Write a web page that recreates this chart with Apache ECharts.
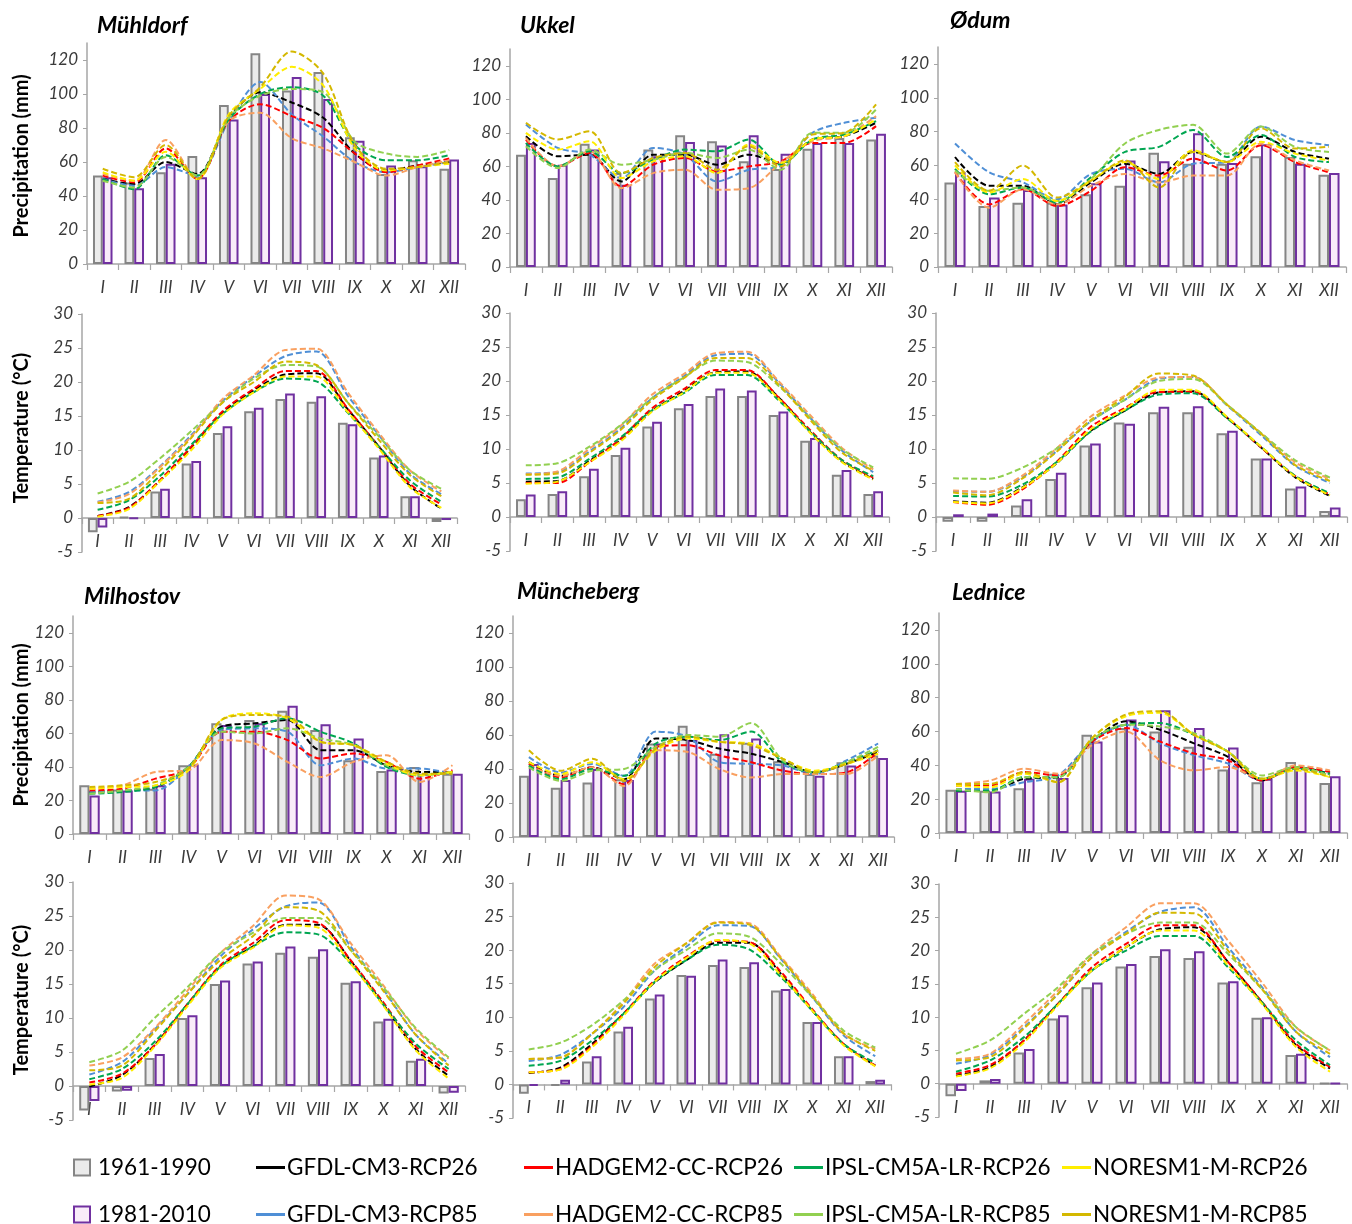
<!DOCTYPE html>
<html>
<head>
<meta charset="utf-8">
<script src="https://cdn.jsdelivr.net/npm/echarts/dist/echarts.min.js"></script>
<style>
  html, body { margin: 0; padding: 0; background: #ffffff; }
  #chart { width: 1352px; height: 1224px; }
</style>
</head>
<body>
<div id="chart"></div>
<script>
// Month categories (Roman numerals)
const months = ['I', 'II', 'III', 'IV', 'V', 'VI', 'VII', 'VIII', 'IX', 'X', 'XI', 'XII'];

// ---------- Mühldorf: precipitation (mm) ----------
const muhldorfP_obs61  = [52, 48, 54, 63.5, 93.5, 124, 102, 113, 74.5, 53, 61, 56];
const muhldorfP_obs81  = [51, 44.6, 59, 51, 85, 100, 110, 97, 72.5, 58, 57.5, 61.5];
const muhldorfP_gfdl26 = [50, 47, 60, 53, 86, 101, 95, 86, 65, 55, 58, 60];
const muhldorfP_gfdl85 = [50, 46, 57, 52, 84, 107, 88, 75, 60, 54, 57, 60];
const muhldorfP_had26  = [52, 48, 68, 50, 84, 94, 87, 80, 65, 54, 58, 62];
const muhldorfP_had85  = [53, 49, 73, 50, 84, 89, 74, 68, 60, 52, 57, 61];
const muhldorfP_ipsl26 = [50, 44, 64, 52, 85, 100, 104, 99, 70, 61, 61, 64];
const muhldorfP_ipsl85 = [49, 45, 63, 52, 86, 99, 103, 101, 72, 65, 63, 67];
const muhldorfP_nor26  = [54, 49, 66, 50, 88, 103, 116, 105, 68, 55, 57, 59];
const muhldorfP_nor85  = [56, 51, 70, 50, 87, 104, 125, 112, 70, 56, 57, 60];

// ---------- Ukkel: precipitation (mm) ----------
const ukkelP_obs61  = [67, 53, 73.5, 56, 70, 78.5, 75, 63, 58.5, 70.5, 77, 76];
const ukkelP_obs81  = [74, 61, 70, 49, 66, 74.5, 72.5, 78.5, 67.5, 74, 74, 79.5];
const ukkelP_gfdl26 = [78, 66, 67, 51, 67, 67, 61, 67, 62, 76, 78, 86];
const ukkelP_gfdl85 = [85, 71, 67, 53, 71, 67, 51, 58, 60, 80, 86, 89];
const ukkelP_had26  = [76, 60, 68, 48, 61, 65, 57, 60, 63, 74, 74, 84];
const ukkelP_had85  = [77, 60, 69, 47, 56, 58, 46, 47, 62, 75, 78, 90];
const ukkelP_ipsl26 = [74, 60, 69, 56, 64, 70, 69, 76, 61, 76, 79, 87];
const ukkelP_ipsl85 = [72, 59, 70, 61, 64, 68, 65, 70, 58, 80, 80, 94];
const ukkelP_nor26  = [80, 70, 75, 53, 63, 66, 56, 73, 62, 76, 78, 88];
const ukkelP_nor85  = [86, 76, 81, 56, 65, 68, 58, 72, 60, 79, 80, 97];

// ---------- Ødum: precipitation (mm) ----------
const odumP_obs61  = [50, 36, 38, 38, 43, 48, 67.5, 61, 61, 65.5, 65, 54.5];
const odumP_obs81  = [56, 41, 45.5, 37, 49.5, 63, 62.5, 79, 61.5, 72.5, 61, 55.5];
const odumP_gfdl26 = [65, 48, 48, 37, 50, 61, 55, 68, 62, 77, 68, 64];
const odumP_gfdl85 = [73, 56, 50, 40, 55, 58, 50, 61, 62, 83, 75, 72];
const odumP_had26  = [56, 37, 46, 36, 45, 59, 54, 64, 57, 72, 62, 56];
const odumP_had85  = [56, 35, 46, 37, 48, 55, 50, 54, 54, 73, 63, 57];
const odumP_ipsl26 = [58, 43, 47, 38, 53, 68, 71, 81, 65, 78, 65, 62];
const odumP_ipsl85 = [57, 45, 47, 39, 52, 73, 81, 84, 67, 83, 71, 68];
const odumP_nor26  = [60, 44, 52, 39, 51, 62, 52, 69, 62, 74, 67, 63];
const odumP_nor85  = [62, 45, 60, 41, 51, 63, 47, 68, 62, 82, 70, 71];

// ---------- Mühldorf: temperature (°C) ----------
const muhldorfT_obs61  = [-2.1, 0.15, 3.9, 8, 12.5, 15.7, 17.5, 17.1, 14, 8.9, 3.2, -0.6];
const muhldorfT_obs81  = [-1.4, -0.1, 4.3, 8.4, 13.5, 16.2, 18.3, 17.9, 13.8, 9.2, 3.2, -0.3];
const muhldorfT_gfdl26 = [0.3, 1.6, 5.5, 10.4, 15.5, 18.8, 21.1, 21.3, 16, 10.5, 4.7, 1.4];
const muhldorfT_gfdl85 = [2.4, 3.8, 7.6, 12.2, 17.2, 20.8, 23.8, 24.5, 18, 12.2, 6.5, 3.5];
const muhldorfT_had26  = [0.3, 1.5, 5.6, 10.5, 15.7, 19, 21.6, 21.6, 16.1, 10.5, 5, 2.0];
const muhldorfT_had85  = [2.3, 3.5, 7.5, 12, 17.5, 21, 24.7, 24.9, 18.5, 12.5, 7.0, 3.9];
const muhldorfT_ipsl26 = [1.2, 2.6, 6.2, 10.8, 15.3, 18.5, 20.5, 20.1, 15.5, 10.5, 5.5, 2.4];
const muhldorfT_ipsl85 = [3.6, 5.3, 8.8, 12.8, 17.0, 20.5, 22.5, 22.3, 17, 12, 7.0, 4.3];
const muhldorfT_nor26  = [0.2, 1.3, 5.4, 10, 15.2, 18.5, 20.8, 20.8, 15.6, 10.2, 4.5, 1.5];
const muhldorfT_nor85  = [2.2, 2.8, 7, 11.8, 17, 20, 23, 22.5, 17, 11.5, 6.3, 3.2];

// ---------- Ukkel: temperature (°C) ----------
const ukkelT_obs61  = [2.6, 3.4, 6.0, 9.1, 13.3, 16.0, 17.8, 17.8, 15.0, 11.2, 6.2, 3.4];
const ukkelT_obs81  = [3.3, 3.8, 7.1, 10.2, 14.0, 16.6, 18.9, 18.6, 15.5, 11.6, 6.9, 3.8];
const ukkelT_gfdl26 = [5.2, 5.3, 8.2, 11.3, 15.6, 18.5, 21.3, 21.4, 17.6, 12.5, 8.2, 5.6];
const ukkelT_gfdl85 = [6.4, 6.6, 9.6, 13, 17.5, 20.7, 23.8, 24.0, 19.8, 14.6, 9.8, 6.6];
const ukkelT_had26  = [5.0, 5.0, 8.0, 11.5, 16.0, 18.8, 21.6, 21.6, 17.6, 12.8, 8.4, 5.8];
const ukkelT_had85  = [6.3, 6.7, 10.0, 13.4, 18.0, 21, 24.1, 24.3, 20, 15, 10.2, 7.0];
const ukkelT_ipsl26 = [5.6, 5.8, 8.5, 11.7, 15.7, 18.2, 20.9, 20.9, 17.2, 12.6, 8.4, 6.0];
const ukkelT_ipsl85 = [7.6, 7.9, 10.3, 13.5, 17.5, 20.5, 23.0, 22.8, 19.3, 14.6, 10.0, 7.3];
const ukkelT_nor26  = [4.9, 5.2, 8.0, 11.1, 15.5, 18.3, 21.2, 21.2, 17.4, 12.4, 8.1, 5.5];
const ukkelT_nor85  = [6.2, 6.4, 9.4, 12.8, 17.2, 20.4, 23.4, 23.4, 19.5, 14.3, 9.5, 6.8];

// ---------- Ødum: temperature (°C) ----------
const odumT_obs61  = [-0.7, -0.7, 1.7, 5.6, 10.5, 13.9, 15.4, 15.4, 12.3, 8.6, 4.2, 0.9];
const odumT_obs81  = [0.4, 0.5, 2.6, 6.5, 10.8, 13.7, 16.2, 16.3, 12.7, 8.6, 4.5, 1.4];
const odumT_gfdl26 = [2.3, 2.1, 4.3, 7.8, 12.6, 15.6, 18.3, 18.5, 14.6, 10.2, 5.8, 3.1];
const odumT_gfdl85 = [3.8, 3.7, 5.8, 9.6, 14, 17.2, 20.3, 20.6, 16.4, 12, 7.5, 5.0];
const odumT_had26  = [2.2, 1.8, 4.0, 8.0, 13.2, 16.0, 18.4, 18.4, 14.6, 10.2, 6.0, 3.3];
const odumT_had85  = [3.9, 3.7, 6.0, 10, 14.7, 17.8, 20.5, 20.6, 16.5, 12.3, 8.0, 5.6];
const odumT_ipsl26 = [3.1, 3.0, 4.7, 8.0, 12.5, 15.6, 18.0, 18.2, 14.5, 10.3, 6.0, 3.5];
const odumT_ipsl85 = [5.7, 5.6, 7.2, 10, 14, 17.2, 20.0, 20.3, 16.5, 12.3, 8.3, 5.8];
const odumT_nor26  = [2.2, 2.0, 4.2, 7.8, 12.8, 15.8, 18.7, 18.7, 14.7, 10.3, 5.9, 3.2];
const odumT_nor85  = [3.6, 3.2, 5.6, 9.5, 14.2, 17.6, 21.1, 20.8, 16.5, 12.2, 7.6, 5.3];

// ---------- Milhostov: precipitation (mm) ----------
const milhostovP_obs61  = [29, 26.5, 27, 41, 66, 68, 73.5, 62, 44, 37.5, 40, 36];
const milhostovP_obs81  = [23, 26, 29, 41.5, 65, 66, 76.5, 65.5, 57, 38.5, 36, 36];
const milhostovP_gfdl26 = [25, 26, 28, 40, 64, 66, 68, 50, 50, 41, 37, 37];
const milhostovP_gfdl85 = [25, 26, 26, 40, 62, 63, 61, 41, 45, 39, 39, 36];
const milhostovP_had26  = [26, 27, 33, 39, 61, 61, 56, 45, 48, 43, 33, 38];
const milhostovP_had85  = [27, 29, 37, 38, 56, 54, 43, 34, 43, 47, 31, 41];
const milhostovP_ipsl26 = [24, 25, 28, 40, 63, 64, 69, 61, 54, 40, 35, 37];
const milhostovP_ipsl85 = [24, 26, 29, 40, 61, 60, 63, 57, 53, 41, 35, 37];
const milhostovP_nor26  = [27, 28, 29, 38, 68, 72, 69, 55, 53, 42, 35, 37];
const milhostovP_nor85  = [28, 29, 31, 39, 68, 71, 70, 55, 53, 43, 36, 36];

// ---------- Müncheberg: precipitation (mm) ----------
const munchebergP_obs61  = [36, 29, 32, 34, 55, 65.5, 49, 55.5, 44.5, 37, 44, 48];
const munchebergP_obs81  = [43, 33.5, 40, 33.5, 55, 57, 60.5, 58, 44, 36, 42, 46.5];
const munchebergP_gfdl26 = [44, 36, 41, 34, 58, 57, 52, 49, 44, 38, 43, 50];
const munchebergP_gfdl85 = [47, 38, 43, 36, 62, 59, 44, 43, 42, 37, 45, 55];
const munchebergP_had26  = [43, 35, 41, 31, 53, 54, 48, 44, 39, 37, 38, 50];
const munchebergP_had85  = [42, 36, 41, 30, 51, 50, 40, 35, 37, 37, 37, 48];
const munchebergP_ipsl26 = [42, 34, 40, 36, 55, 59, 57, 62, 44, 38, 44, 51];
const munchebergP_ipsl85 = [41, 33, 39, 40, 53, 60, 59, 67, 45, 38, 44, 53];
const munchebergP_nor26  = [44, 37, 44, 34, 51, 58, 56, 55, 46, 39, 43, 49];
const munchebergP_nor85  = [51, 39, 46, 33, 52, 59, 56, 54, 46, 38, 43, 51];

// ---------- Lednice: precipitation (mm) ----------
const ledniceP_obs61  = [25.5, 25, 26.5, 35, 58, 62, 60, 51, 37.5, 30, 42, 29.5];
const ledniceP_obs81  = [25, 24.5, 32, 32.5, 54, 67, 72.5, 62, 50.5, 32, 39, 33.5];
const ledniceP_gfdl26 = [25, 25, 32, 33, 54, 66, 61, 53, 45, 31, 39, 35];
const ledniceP_gfdl85 = [26, 26, 30, 34, 54, 64, 53, 46, 41, 31, 39, 36];
const ledniceP_had26  = [28, 28, 36, 34, 54, 62, 54, 47, 43, 31, 39, 36];
const ledniceP_had85  = [29, 31, 38, 35, 52, 60, 43, 37, 39, 32, 40, 37];
const ledniceP_ipsl26 = [25, 25, 33, 33, 55, 64, 65, 58, 48, 32, 38, 35];
const ledniceP_ipsl85 = [26, 24, 33, 33, 55, 64, 63, 59, 48, 34, 39, 34];
const ledniceP_nor26  = [28, 27, 35, 30, 56, 69, 71, 58, 48, 32, 37, 33];
const ledniceP_nor85  = [29, 29, 36, 30, 56, 70, 72, 58, 48, 32, 38, 33];

// ---------- Milhostov: temperature (°C) ----------
const milhostovT_obs61  = [-3.6, -0.8, 4.1, 10.0, 15.0, 18.0, 19.6, 19.0, 15.2, 9.5, 3.7, -1.1];
const milhostovT_obs81  = [-2.2, -0.7, 4.7, 10.4, 15.5, 18.3, 20.5, 20.1, 15.4, 9.9, 4.0, -1.0];
const milhostovT_gfdl26 = [-0.1, 1.6, 6.0, 12, 17.5, 20.5, 23.7, 23.7, 18.4, 12, 5.4, 1.5];
const milhostovT_gfdl85 = [1.7, 3.5, 8.3, 13.5, 19, 23, 26.4, 27, 20.5, 14.2, 7.5, 3.3];
const milhostovT_had26  = [0.5, 1.8, 6.0, 12, 17.7, 21, 24.4, 24.0, 18.5, 12.3, 5.8, 2.0];
const milhostovT_had85  = [3.0, 4.2, 8.5, 14, 19.5, 23.5, 28.0, 27.5, 21, 14.8, 8.3, 4.0];
const milhostovT_ipsl26 = [1.0, 2.5, 6.5, 12, 17.5, 20.5, 22.6, 22.3, 18, 12, 6.2, 2.5];
const milhostovT_ipsl85 = [3.5, 5.2, 10, 14.5, 19.5, 22.5, 24.7, 24.7, 20, 14.5, 8.5, 4.2];
const milhostovT_nor26  = [0.2, 1.2, 5.8, 11.7, 17.3, 20.3, 23.6, 23.3, 18, 11.8, 5.2, 1.1];
const milhostovT_nor85  = [2.3, 3.0, 8.0, 13.5, 18.5, 22, 26.3, 25.8, 20, 14, 7.5, 3.0];

// ---------- Müncheberg: temperature (°C) ----------
const munchebergT_obs61  = [-1.4, -0.2, 3.4, 7.9, 12.8, 16.3, 17.8, 17.5, 14.0, 9.3, 4.2, 0.5];
const munchebergT_obs81  = [-0.2, 0.7, 4.2, 8.6, 13.4, 16.2, 18.6, 18.2, 14.2, 9.3, 4.2, 0.7];
const munchebergT_gfdl26 = [1.7, 2.5, 6.0, 10.5, 15.2, 18.5, 21.1, 21.1, 16.5, 11.0, 6.0, 2.8];
const munchebergT_gfdl85 = [3.5, 4.4, 7.5, 11.5, 17, 20.5, 23.7, 23.6, 18.7, 13, 7.3, 4.2];
const munchebergT_had26  = [1.8, 2.3, 5.7, 10.5, 15.5, 19, 21.4, 21.2, 16.8, 11.2, 6.0, 2.8];
const munchebergT_had85  = [3.8, 4.0, 7.5, 12.2, 18, 21, 24.2, 24.0, 19, 13.5, 7.5, 5.3];
const munchebergT_ipsl26 = [2.8, 3.5, 6.5, 10.5, 15.3, 18.5, 20.8, 20.1, 16, 11, 6.0, 3.2];
const munchebergT_ipsl85 = [5.2, 6.2, 8.8, 12.5, 17, 20, 22.5, 22.0, 18, 13, 8.0, 5.5];
const munchebergT_nor26  = [1.8, 2.2, 5.5, 10.2, 15.3, 18.8, 21.5, 21.0, 16.3, 11, 5.8, 2.7];
const munchebergT_nor85  = [3.8, 4.0, 7.5, 12, 17.5, 21, 24.1, 23.8, 18.8, 13.2, 7.6, 5.0];

// ---------- Lednice: temperature (°C) ----------
const ledniceT_obs61  = [-1.9, 0.5, 4.7, 9.8, 14.5, 17.6, 19.2, 18.9, 15.2, 9.9, 4.3, 0.1];
const ledniceT_obs81  = [-1.1, 0.7, 5.2, 10.3, 15.2, 18.0, 20.2, 19.9, 15.4, 10.0, 4.5, 0.1];
const ledniceT_gfdl26 = [1.2, 2.5, 6.5, 12.0, 17.0, 20.5, 23.2, 23.5, 18.3, 12.2, 5.8, 2.3];
const ledniceT_gfdl85 = [3.0, 4.3, 8.5, 13.5, 19, 22.8, 25.8, 26.5, 20.5, 14.5, 7.8, 4.0];
const ledniceT_had26  = [1.5, 2.8, 6.5, 12.0, 17.5, 21, 23.8, 23.8, 18.3, 12.3, 6.0, 2.5];
const ledniceT_had85  = [3.7, 4.5, 9.0, 14.0, 19.5, 23.5, 27.1, 27.1, 21.5, 15.2, 8.5, 5.0];
const ledniceT_ipsl26 = [1.8, 3.5, 7.0, 12.0, 17.0, 20.0, 22.2, 22.2, 17.5, 12.2, 6.5, 2.8];
const ledniceT_ipsl85 = [4.5, 6.5, 10.5, 14.5, 19.5, 22.5, 24.2, 24.2, 19.5, 14.2, 8.5, 5.0];
const ledniceT_nor26  = [1.1, 2.3, 6.2, 11.8, 17.0, 20.5, 23.0, 23.0, 17.8, 12, 5.5, 1.8];
const ledniceT_nor85  = [3.5, 4.0, 8.3, 13.5, 19, 22.5, 25.7, 25.6, 20, 14.2, 7.8, 4.5];

// Series names, in legend order
const periodNames = ['1961-1990', '1981-2010'];
const modelNames = [
  'GFDL-CM3-RCP26', 'GFDL-CM3-RCP85',
  'HADGEM2-CC-RCP26', 'HADGEM2-CC-RCP85',
  'IPSL-CM5A-LR-RCP26', 'IPSL-CM5A-LR-RCP85',
  'NORESM1-M-RCP26', 'NORESM1-M-RCP85'
];

// Value ranges of the two panel types
const precipRange = { min: 0, max: 130, interval: 20 };
const tempRange = { min: -5, max: 30, interval: 5 };

// Styling
const FONT = 'Lato, "Liberation Sans", sans-serif';
const modelColors = {
  'GFDL-CM3-RCP26': '#000000',
  'GFDL-CM3-RCP85': '#4f8fd6',
  'HADGEM2-CC-RCP26': '#ff0000',
  'HADGEM2-CC-RCP85': '#f9a060',
  'IPSL-CM5A-LR-RCP26': '#00a651',
  'IPSL-CM5A-LR-RCP85': '#92d050',
  'NORESM1-M-RCP26': '#ffee00',
  'NORESM1-M-RCP85': '#d4b800'
};
const periodStyle = {
  '1961-1990': { color: '#ebebeb', borderColor: '#858585' },
  '1981-2010': { color: '#f9ecf9', borderColor: '#7030a0' }
};

// Panel layout: each panel combines the arrays above for one station and variable
const panels = [
  { title: 'Mühldorf', kind: 'P', rect: [87, 43, 378, 221], titlePos: [97, 14],
    series: [muhldorfP_obs61, muhldorfP_obs81, muhldorfP_gfdl26, muhldorfP_gfdl85, muhldorfP_had26, muhldorfP_had85, muhldorfP_ipsl26, muhldorfP_ipsl85, muhldorfP_nor26, muhldorfP_nor85] },
  { title: 'Ukkel', kind: 'P', rect: [510, 49, 382, 218], titlePos: [520, 14],
    series: [ukkelP_obs61, ukkelP_obs81, ukkelP_gfdl26, ukkelP_gfdl85, ukkelP_had26, ukkelP_had85, ukkelP_ipsl26, ukkelP_ipsl85, ukkelP_nor26, ukkelP_nor85] },
  { title: 'Ødum', kind: 'P', rect: [938, 47, 408, 220], titlePos: [950, 9],
    series: [odumP_obs61, odumP_obs81, odumP_gfdl26, odumP_gfdl85, odumP_had26, odumP_had85, odumP_ipsl26, odumP_ipsl85, odumP_nor26, odumP_nor85] },
  { kind: 'T', rect: [82, 314, 375, 238],
    series: [muhldorfT_obs61, muhldorfT_obs81, muhldorfT_gfdl26, muhldorfT_gfdl85, muhldorfT_had26, muhldorfT_had85, muhldorfT_ipsl26, muhldorfT_ipsl85, muhldorfT_nor26, muhldorfT_nor85] },
  { kind: 'T', rect: [510, 313, 379, 238],
    series: [ukkelT_obs61, ukkelT_obs81, ukkelT_gfdl26, ukkelT_gfdl85, ukkelT_had26, ukkelT_had85, ukkelT_ipsl26, ukkelT_ipsl85, ukkelT_nor26, ukkelT_nor85] },
  { kind: 'T', rect: [936, 313, 411, 238],
    series: [odumT_obs61, odumT_obs81, odumT_gfdl26, odumT_gfdl85, odumT_had26, odumT_had85, odumT_ipsl26, odumT_ipsl85, odumT_nor26, odumT_nor85] },
  { title: 'Milhostov', kind: 'P', rect: [73, 616, 396, 218], titlePos: [84, 585],
    series: [milhostovP_obs61, milhostovP_obs81, milhostovP_gfdl26, milhostovP_gfdl85, milhostovP_had26, milhostovP_had85, milhostovP_ipsl26, milhostovP_ipsl85, milhostovP_nor26, milhostovP_nor85] },
  { title: 'Müncheberg', kind: 'P', rect: [513, 616, 381, 221], titlePos: [517, 580],
    series: [munchebergP_obs61, munchebergP_obs81, munchebergP_gfdl26, munchebergP_gfdl85, munchebergP_had26, munchebergP_had85, munchebergP_ipsl26, munchebergP_ipsl85, munchebergP_nor26, munchebergP_nor85] },
  { title: 'Lednice', kind: 'P', rect: [939, 613, 408, 220], titlePos: [952, 581],
    series: [ledniceP_obs61, ledniceP_obs81, ledniceP_gfdl26, ledniceP_gfdl85, ledniceP_had26, ledniceP_had85, ledniceP_ipsl26, ledniceP_ipsl85, ledniceP_nor26, ledniceP_nor85] },
  { kind: 'T', rect: [73, 882, 392, 238],
    series: [milhostovT_obs61, milhostovT_obs81, milhostovT_gfdl26, milhostovT_gfdl85, milhostovT_had26, milhostovT_had85, milhostovT_ipsl26, milhostovT_ipsl85, milhostovT_nor26, milhostovT_nor85] },
  { kind: 'T', rect: [513, 883, 378, 235],
    series: [munchebergT_obs61, munchebergT_obs81, munchebergT_gfdl26, munchebergT_gfdl85, munchebergT_had26, munchebergT_had85, munchebergT_ipsl26, munchebergT_ipsl85, munchebergT_nor26, munchebergT_nor85] },
  { kind: 'T', rect: [939, 884, 408, 233],
    series: [ledniceT_obs61, ledniceT_obs81, ledniceT_gfdl26, ledniceT_gfdl85, ledniceT_had26, ledniceT_had85, ledniceT_ipsl26, ledniceT_ipsl85, ledniceT_nor26, ledniceT_nor85] }
];

// Rotated axis titles for the left column: [text, x, y]
const axisTitles = [
  ['Precipitation (mm)', 22, 156],
  ['Temperature (°C)', 22, 428],
  ['Precipitation (mm)', 22, 725],
  ['Temperature (°C)', 22, 1000]
];

const axisGray = '#a6a6a6';
const labelColor = '#3a3a3a';

const grids = [], xAxes = [], yAxes = [], series = [], titles = [];

panels.forEach((p, i) => {
  const [left, top, width, height] = p.rect;
  const range = p.kind === 'P' ? precipRange : tempRange;
  grids.push({ left, top, width, height, containLabel: false });

  // Category axis sits on the zero line of the value axis
  const zeroOffset = -height * (0 - range.min) / (range.max - range.min);
  xAxes.push({
    type: 'category', gridIndex: i, data: months, position: 'bottom', offset: zeroOffset,
    axisLine: { show: true, onZero: false, lineStyle: { color: axisGray, width: 1.5 } },
    axisTick: { show: true, length: 6, interval: 0, lineStyle: { color: axisGray, width: 1.2 } },
    axisLabel: { interval: 0, margin: 15, fontFamily: FONT, fontStyle: 'italic', fontSize: 17, color: labelColor },
    splitLine: { show: false }
  });

  yAxes.push({
    type: 'value', gridIndex: i,
    min: range.min, max: range.max, interval: range.interval,
    axisLine: { show: true, lineStyle: { color: axisGray, width: 1.5 } },
    axisTick: { show: true, length: 4, lineStyle: { color: axisGray } },
    axisLabel: { showMaxLabel: p.kind !== 'P', margin: 9, fontFamily: FONT, fontStyle: 'italic', fontSize: 17, color: labelColor },
    splitLine: { show: false }
  });

  if (p.title) {
    titles.push({
      text: p.title, left: p.titlePos[0], top: p.titlePos[1], padding: 0,
      textStyle: { fontFamily: FONT, fontWeight: 'bold', fontStyle: 'italic', fontSize: 23, color: '#000' }
    });
  }

  periodNames.forEach((name, k) => {
    series.push({
      name, type: 'bar', xAxisIndex: i, yAxisIndex: i,
      data: p.series[k],
      barGap: '0%', barCategoryGap: '38%',
      itemStyle: { color: periodStyle[name].color, borderColor: periodStyle[name].borderColor, borderWidth: 2 },
      emphasis: { disabled: true }, z: 2
    });
  });

  modelNames.forEach((name, k) => {
    series.push({
      name, type: 'line', xAxisIndex: i, yAxisIndex: i,
      data: p.series[k + 2],
      smooth: 0.3, symbol: 'none', showSymbol: false,
      lineStyle: { color: modelColors[name], width: 2, type: [6, 3] },
      itemStyle: { color: modelColors[name] },
      emphasis: { disabled: true }, z: 3
    });
  });
});

// Legend: one block per entry, arranged in two rows
const legendRows = [1156, 1203];
const legendCols = [
  { x: 73,   names: ['1961-1990', '1981-2010'] },
  { x: 256,  names: ['GFDL-CM3-RCP26', 'GFDL-CM3-RCP85'] },
  { x: 524,  names: ['HADGEM2-CC-RCP26', 'HADGEM2-CC-RCP85'] },
  { x: 794,  names: ['IPSL-CM5A-LR-RCP26', 'IPSL-CM5A-LR-RCP85'] },
  { x: 1062, names: ['NORESM1-M-RCP26', 'NORESM1-M-RCP85'] }
];
const legends = [];
legendCols.forEach((col, c) => {
  col.names.forEach((name, r) => {
    const isBar = c === 0;
    legends.push({
      data: [name], left: col.x, top: legendRows[r], padding: 0,
      icon: 'rect',
      itemWidth: isBar ? 16 : 29, itemHeight: isBar ? 16 : 3, itemGap: 0,
      textStyle: { fontFamily: FONT, fontSize: 22.5, color: '#000', padding: [0, 0, 0, isBar ? 3 : -3] },
      selectedMode: false
    });
  });
});

const graphics = axisTitles.map(([text, x, y]) => ({
  type: 'text', x, y, rotation: Math.PI / 2, silent: true,
  style: { text, fontFamily: FONT, fontWeight: 'bold', fontSize: 20, fill: '#000', align: 'center', verticalAlign: 'middle' }
}));

const chart = echarts.init(document.getElementById('chart'), null, { renderer: 'canvas' });
chart.setOption({
  animation: false,
  backgroundColor: '#ffffff',
  title: titles,
  legend: legends,
  grid: grids,
  xAxis: xAxes,
  yAxis: yAxes,
  graphic: graphics,
  series
});
</script>
</body>
</html>
